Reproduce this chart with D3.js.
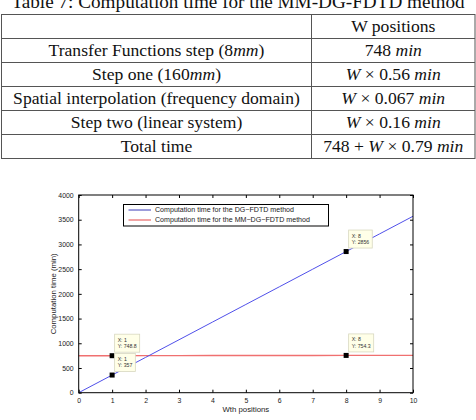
<!DOCTYPE html>
<html>
<head>
<meta charset="utf-8">
<script src="https://cdn.jsdelivr.net/npm/d3@7"></script>
<style>
  body { margin: 0; background: #fff; }
  svg { display: block; }
</style>
</head>
<body>
<svg id="page" width="476" height="420"></svg>
<script>
// table content
const tableTitle = "Table 7: Computation time for the MM-DG-FDTD method";
const headerCell = "W positions";
const stepLabels = [
  "Transfer Functions step (8{mm})",
  "Step one (160{mm})",
  "Spatial interpolation (frequency domain)",
  "Step two (linear system)",
  "Total time"
];
const stepTimes = [
  "748 {min}",
  "{W} × 0.56 {min}",
  "{W} × 0.067 {min}",
  "{W} × 0.16 {min}",
  "748 + {W} × 0.79 {min}"
];

// chart content
const positions = [0, 1, 2, 3, 4, 5, 6, 7, 8, 9, 10];
const dgTime = [0, 357, 714, 1071, 1428, 1785, 2142, 2499, 2856, 3213, 3570];
const mmTime = [748, 748.8, 749.6, 750.4, 751.2, 751.9, 752.7, 753.5, 754.3, 755.1, 755.9];
const seriesNames = [
  "Computation time for the DG\u2212FDTD method",
  "Computation time for the MM\u2212DG\u2212FDTD method"
];
const xTicks = [0, 1, 2, 3, 4, 5, 6, 7, 8, 9, 10];
const yTicks = [0, 500, 1000, 1500, 2000, 2500, 3000, 3500, 4000];
const tipX = [1, 1, 8, 8];
const tipY = [748.8, 357, 2856, 754.3];

const svg = d3.select("#page");

// ---------- table ----------
const serif = "Liberation Serif";
const tLeft = 1.5, tMid = 311.5, tRight = 475, tTop = 14.5, rowH = 24;

function richText(sel, str) {
  // {...} parts are set in italic, like math mode
  str.split(/(\{[^}]*\})/).filter(s => s.length).forEach(part => {
    const it = part[0] === "{";
    sel.append("tspan")
      .attr("font-family", serif)
      .attr("font-style", it ? "italic" : "normal")
      .text(it ? part.slice(1, -1) : part);
  });
}

svg.append("text")
  .attr("x", 238)
  .attr("y", 7.5)
  .attr("text-anchor", "middle")
  .attr("font-family", serif)
  .attr("font-size", 19.2)
  .attr("fill", "#111")
  .text(tableTitle);

const rows = [["", headerCell]].concat(stepLabels.map((d, i) => [d, stepTimes[i]]));

const tbl = svg.append("g").attr("class", "table");
tbl.append("rect")
  .attr("x", tLeft).attr("y", tTop)
  .attr("width", tRight - tLeft).attr("height", rowH * rows.length)
  .attr("fill", "none").attr("stroke", "#555").attr("stroke-width", 1);
tbl.append("line")
  .attr("x1", tMid).attr("x2", tMid)
  .attr("y1", tTop).attr("y2", tTop + rowH * rows.length)
  .attr("stroke", "#555");
tbl.selectAll(".hline")
  .data(d3.range(1, rows.length))
  .join("line")
  .attr("class", "hline")
  .attr("x1", tLeft).attr("x2", tRight)
  .attr("y1", i => tTop + i * rowH).attr("y2", i => tTop + i * rowH)
  .attr("stroke", "#555");

rows.forEach((r, i) => {
  const y = tTop + i * rowH + 17;
  tbl.append("text")
    .attr("x", (tLeft + tMid) / 2).attr("y", y)
    .attr("text-anchor", "middle")
    .attr("font-family", serif).attr("font-size", 17.6).attr("fill", "#111")
    .call(richText, r[0]);
  tbl.append("text")
    .attr("x", (tMid + tRight) / 2).attr("y", y)
    .attr("text-anchor", "middle")
    .attr("font-family", serif).attr("font-size", 17.6).attr("fill", "#111")
    .call(richText, r[1]);
});

// ---------- chart ----------
const sans = "Liberation Sans";
const x = d3.scaleLinear().domain([0, 10]).range([78.7, 413]);
const y = d3.scaleLinear().domain([0, 4000]).range([392.7, 195]);
const blue = "#5050ea", red = "#f07070";

const chart = svg.append("g").attr("class", "chart");

chart.append("rect")
  .attr("x", x(0)).attr("y", y(4000))
  .attr("width", x(10) - x(0)).attr("height", y(0) - y(4000))
  .attr("fill", "#fff");

const line = (vals) => d3.line()
  .x((d, i) => x(positions[i]))
  .y(d => y(d))(vals);

chart.append("path")
  .attr("d", line(mmTime))
  .attr("fill", "none").attr("stroke", red).attr("stroke-width", 1.4);
chart.append("path")
  .attr("d", line(dgTime))
  .attr("fill", "none").attr("stroke", blue).attr("stroke-width", 1);

// axes, ticks inward on all sides
const axStyle = g => {
  g.select(".domain").remove();
  g.selectAll(".tick line").attr("stroke", "#000");
  g.selectAll(".tick text")
    .attr("font-family", sans).attr("font-size", 6.9).attr("fill", "#222");
};
chart.append("g")
  .attr("transform", `translate(0,${y(0)})`)
  .call(d3.axisBottom(x).tickValues(xTicks).tickSize(-3).tickPadding(5).tickFormat(d3.format("d")))
  .call(axStyle);
chart.append("g")
  .attr("transform", `translate(0,${y(4000)})`)
  .call(d3.axisTop(x).tickValues(xTicks).tickSize(-3).tickFormat(""))
  .call(axStyle);
chart.append("g")
  .attr("transform", `translate(${x(0)},0)`)
  .call(d3.axisLeft(y).tickValues(yTicks).tickSize(-3).tickPadding(5).tickFormat(d3.format("d")))
  .call(axStyle);
chart.append("g")
  .attr("transform", `translate(${x(10)},0)`)
  .call(d3.axisRight(y).tickValues(yTicks).tickSize(-3).tickFormat(""))
  .call(axStyle);

chart.append("rect")
  .attr("x", x(0)).attr("y", y(4000))
  .attr("width", x(10) - x(0)).attr("height", y(0) - y(4000))
  .attr("fill", "none").attr("stroke", "#000").attr("stroke-width", 1);

chart.append("text")
  .attr("x", (x(0) + x(10)) / 2).attr("y", 412)
  .attr("text-anchor", "middle")
  .attr("font-family", sans).attr("font-size", 7.8).attr("fill", "#222")
  .text("Wth positions");
chart.append("text")
  .attr("transform", `translate(55.5,${(y(0) + y(4000)) / 2}) rotate(-90)`)
  .attr("text-anchor", "middle")
  .attr("font-family", sans).attr("font-size", 7.8).attr("fill", "#222")
  .text("Computation time (min)");

// legend
const lg = chart.append("g").attr("transform", "translate(123.5,204.5)");
lg.append("rect")
  .attr("width", 205).attr("height", 21.5)
  .attr("fill", "#fff").attr("stroke", "#000").attr("stroke-width", 1);
[blue, red].forEach((c, i) => {
  const ly = 5.5 + i * 10;
  lg.append("line")
    .attr("x1", 5).attr("x2", 27.5).attr("y1", ly).attr("y2", ly)
    .attr("stroke", i ? "#f09a9a" : "#3a3ab8").attr("stroke-width", i ? 1.8 : 1);
  lg.append("text")
    .attr("x", 31.5).attr("y", ly + 2.4)
    .attr("font-family", sans).attr("font-size", 7.1).attr("fill", "#222")
    .text(seriesNames[i]);
});

// data tips
tipX.forEach((tx, i) => {
  const px = x(tx), py = y(tipY[i]);
  const tip = chart.append("g").attr("transform", `translate(${px + 2.5},${py - 21.5})`);
  const box = tip.append("rect")
    .attr("height", 18)
    .attr("fill", "#ffffe8").attr("stroke", "#d8d8c0").attr("stroke-width", 0.8);
  const t1 = tip.append("text").attr("x", 3).attr("y", 7.5)
    .attr("font-family", sans).attr("font-size", 5.2).attr("fill", "#333")
    .text("X: " + tx);
  const t2 = tip.append("text").attr("x", 3).attr("y", 13.8)
    .attr("font-family", sans).attr("font-size", 5.2).attr("fill", "#333")
    .text("Y: " + tipY[i]);
  const w = Math.max(t1.node().getComputedTextLength(), t2.node().getComputedTextLength());
  box.attr("width", w + 6);
  chart.append("rect")
    .attr("x", px - 2.5).attr("y", py - 2.5)
    .attr("width", 5).attr("height", 5)
    .attr("fill", "#000");
});
</script>
</body>
</html>
